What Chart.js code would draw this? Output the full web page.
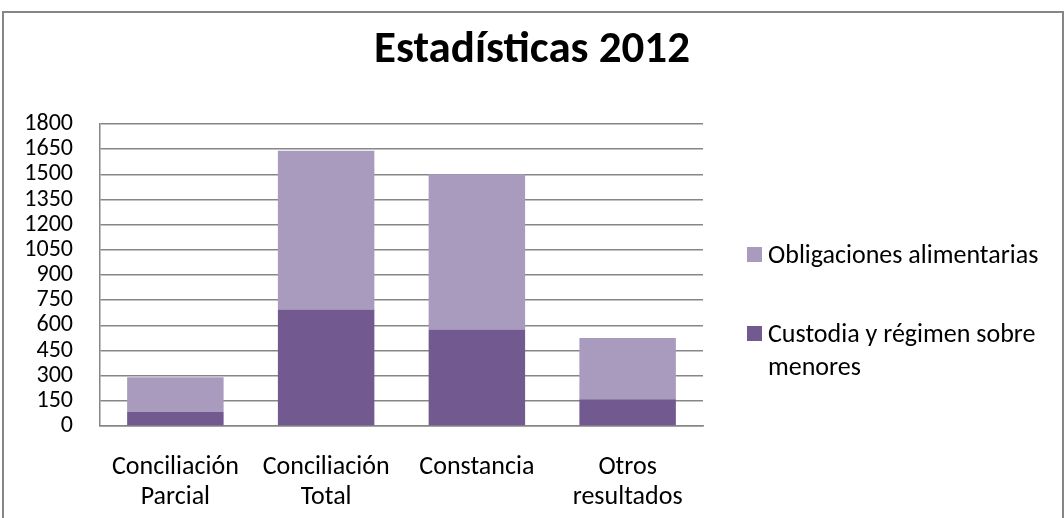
<!DOCTYPE html>
<html lang="es">
<head>
<meta charset="utf-8">
<script src="https://cdn.jsdelivr.net/npm/chart.js@4.4.1/dist/chart.umd.min.js"></script>
<style>
  html, body { margin: 0; padding: 0; background: #fff; }
  #wrap { position: relative; width: 1064px; height: 518px; }
  #frame {
    position: absolute; left: 2px; top: 11px; width: 1058px; height: 520px;
    border: 2px solid #868686; pointer-events: none;
  }
</style>
</head>
<body>
<div id="wrap">
  <canvas id="chart" width="1064" height="518"></canvas>
  <div id="frame"></div>
</div>
<script>
'use strict';

const FONT = 'Carlito, Lato, sans-serif';

// Categorías y series
const categorias = [
  ['Conciliación', 'Parcial'],
  ['Conciliación', 'Total'],
  'Constancia',
  ['Otros', 'resultados'],
];
const custodia = [85, 695, 575, 160];
const obligaciones = [205, 945, 925, 365];
const ticksY = [0, 150, 300, 450, 600, 750, 900, 1050, 1200, 1350, 1500, 1650, 1800];

const colorOscuro = '#725990';
const colorClaro = '#A99BBD';
const colorGris = '#868686';

// Leyenda a la derecha, dibujada a mano para poder partir el texto
const leyendaDerecha = {
  id: 'leyendaDerecha',
  afterDraw(chart) {
    const ctx = chart.ctx;
    const items = chart.data.datasets.slice().reverse();
    const x = 747;
    const maxAncho = 290;
    const alturaLinea = 33;
    let y = 255;
    ctx.save();
    ctx.font = `26px ${FONT}`;
    ctx.textBaseline = 'middle';
    items.forEach(ds => {
      const palabras = ds.label.split(' ');
      const lineas = [];
      let actual = '';
      palabras.forEach(p => {
        const prueba = actual ? actual + ' ' + p : p;
        if (ctx.measureText(prueba).width > maxAncho && actual) {
          lineas.push(actual);
          actual = p;
        } else {
          actual = prueba;
        }
      });
      lineas.push(actual);
      ctx.fillStyle = ds.backgroundColor;
      ctx.fillRect(x, y - 8, 15, 15);
      ctx.fillStyle = '#000';
      lineas.forEach((l, i) => ctx.fillText(l, x + 21, y + 1 + i * alturaLinea));
      y += 79;
    });
    ctx.restore();
  },
};

const ctx = document.getElementById('chart').getContext('2d');
new Chart(ctx, {
  type: 'bar',
  data: {
    labels: categorias,
    datasets: [
      {
        label: 'Custodia y régimen sobre menores',
        data: custodia,
        backgroundColor: colorOscuro,
        barPercentage: 0.64,
        categoryPercentage: 1,
      },
      {
        label: 'Obligaciones alimentarias',
        data: obligaciones,
        backgroundColor: colorClaro,
        barPercentage: 0.64,
        categoryPercentage: 1,
      },
    ],
  },
  options: {
    responsive: false,
    animation: false,
    layout: { padding: 0 },
    plugins: {
      legend: { display: false },
      tooltip: { enabled: false },
      title: {
        display: true,
        text: 'Estadísticas 2012',
        color: '#000',
        font: { family: FONT, size: 45, weight: 'bold', lineHeight: 1.2 },
        padding: { top: 24, bottom: 46 },
      },
    },
    scales: {
      x: {
        stacked: true,
        grid: { display: false },
        border: { display: true, color: colorGris, width: 1.5 },
        ticks: {
          color: '#000',
          font: { family: FONT, size: 26, lineHeight: 1.15 },
          padding: 19,
          maxRotation: 0,
        },
        afterFit: scale => { scale.height = 92; },
      },
      y: {
        stacked: true,
        min: 0,
        max: 1800,
        afterBuildTicks: scale => {
          scale.ticks = ticksY.map(v => ({ value: v }));
        },
        grid: { color: colorGris, lineWidth: 1.5, drawTicks: false },
        border: { display: true, color: colorGris, width: 1.5 },
        ticks: {
          color: '#000',
          font: { family: FONT, size: 24 },
          padding: 27,
          autoSkip: false,
          callback: v => String(v),
        },
        afterFit: scale => { scale.width = 100; },
      },
      // hueco a la derecha del área de trazado, reservado para la leyenda
      hueco: {
        position: 'right',
        display: true,
        grid: { display: false },
        border: { display: false },
        ticks: { display: false },
        afterFit: scale => { scale.width = 361; },
      },
    },
  },
  plugins: [leyendaDerecha],
});
</script>
</body>
</html>
